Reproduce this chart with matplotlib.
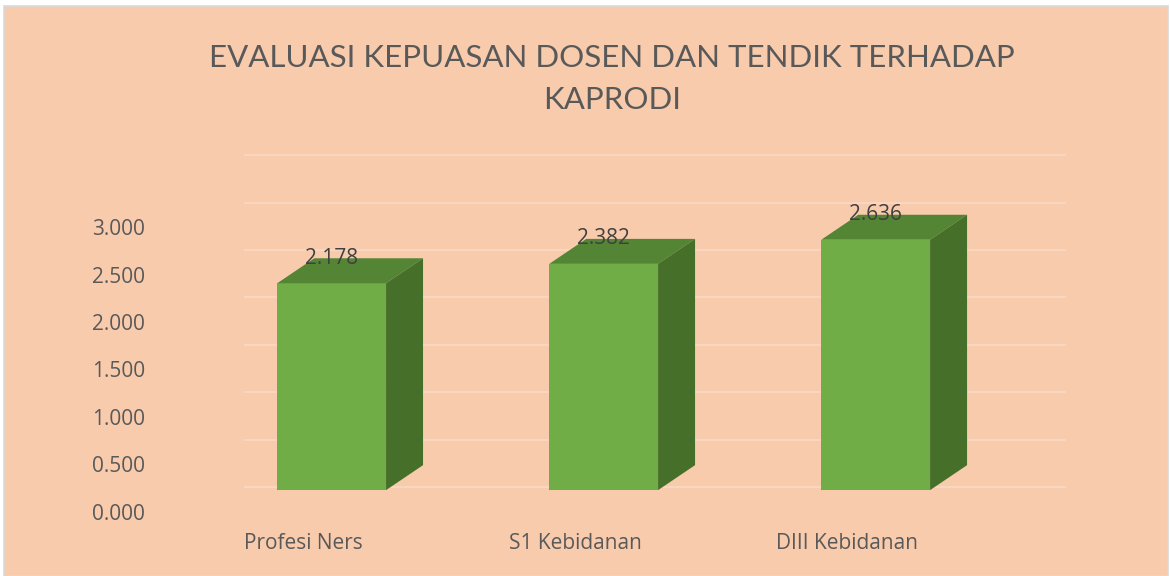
import matplotlib.pyplot as plt
from matplotlib.patches import Polygon, Rectangle

# data
categories = ['Profesi Ners', 'S1 Kebidanan', 'DIII Kebidanan']
values = [2.178, 2.382, 2.636]
yticks = [0.0, 0.5, 1.0, 1.5, 2.0, 2.5, 3.0]
wall_lines = [0.5, 1.0, 1.5, 2.0, 2.5, 3.0, 3.5, 4.0]
title = 'EVALUASI KEPUASAN DOSEN DAN TENDIK TERHADAP\nKAPRODI'

bg = '#F8CBAD'
front_c = '#70AD47'
top_c = '#538535'
side_c = '#46702A'
text_c = '#595959'

# fake 3d look (excel style)
shift = 0.105      # bar centre offset from tick
half_w = 0.2
base = 0.23        # front face floor
dx, dy = 0.136, 0.263
wall_off = -0.242

fig = plt.figure(figsize=(11.7, 5.76), dpi=100)
fig.patch.set_facecolor('white')
fig.patches.append(Rectangle((4 / 1170, 0), 1164 / 1170, 570 / 576,
                             transform=fig.transFigure, facecolor=bg,
                             edgecolor='#D9D9D9', lw=1.2, zorder=-10))

ax = fig.add_axes([160 / 1170, 51 / 576, 970 / 1170, 385 / 576])
ax.set_facecolor('none')
ax.set_xlim(-0.526, 3.040)
ax.set_ylim(-0.137, 3.916)

# back wall gridlines (very faint)
for v in wall_lines:
    ax.plot([-0.213, 2.80], [v + wall_off, v + wall_off], color='#F9D6C0',
            lw=1.5, zorder=0)

for i, v in enumerate(values):
    c = i + shift
    x0, x1 = c - half_w, c + half_w
    top = base + v
    ax.bar(c, v, width=2 * half_w, bottom=base, color=front_c, zorder=3)
    ax.add_patch(Polygon([(x0, top), (x1, top), (x1 + dx, top + dy), (x0 + dx, top + dy)],
                         closed=True, facecolor=top_c, edgecolor='none', zorder=3))
    ax.add_patch(Polygon([(x1, base), (x1 + dx, base + dy), (x1 + dx, top + dy), (x1, top)],
                         closed=True, facecolor=side_c, edgecolor='none', zorder=3))
    ax.text(c, top + dy, f'{v:.3f}', ha='center', va='center', fontsize=15,
            color='#404040', family='Open Sans', zorder=4)

ax.set_yticks(yticks)
ax.set_yticklabels([f'{t:.3f}' for t in yticks], family='Open Sans', fontsize=15, color=text_c)
ax.set_xticks(range(len(categories)))
ax.set_xticklabels(categories, family='Open Sans', fontsize=15, color=text_c)
ax.tick_params(axis='y', length=0, pad=11)
ax.tick_params(axis='x', length=0, pad=6)
for s in ax.spines.values():
    s.set_visible(False)

fig.text(612 / 1170, 1 - 79 / 576, title, ha='center', va='center', fontsize=22.5,
         color=text_c, family='Lato', linespacing=1.65)

plt.savefig('out.png', dpi=100)
